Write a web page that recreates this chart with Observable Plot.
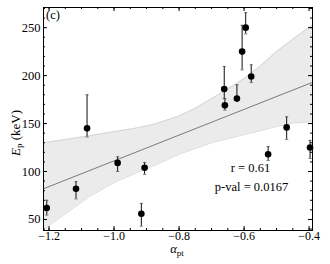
<!DOCTYPE html>
<html><head><meta charset="utf-8">
<script src="https://cdn.jsdelivr.net/npm/d3@7"></script>
<script src="https://cdn.jsdelivr.net/npm/@observablehq/plot@0.6"></script>
<style>body{margin:0;background:#fff} svg{display:block}</style>
</head><body><div id="chart"></div>
<script>
// Data
const alpha = [-1.207, -1.117, -1.083, -0.989, -0.906, -0.916, -0.661, -0.659, -0.622, -0.606, -0.595, -0.578, -0.526, -0.469, -0.397];
const Ep    = [62, 82, 145, 109, 104, 56, 186, 169, 176, 225, 250, 199, 118, 146, 125];
const EpLo  = [54.6, 71.5, 136, 100, 97, 43, 176, 164, 174, 206, 243.5, 192.7, 111.5, 133.5, 113.6];
const EpHi  = [70, 89.4, 180, 115.3, 109.4, 66.7, 209.5, 176, 190.5, 252.4, 265.6, 211.2, 126, 157, 132.4];

const bandX  = [-1.217, -1.125, -1.075, -1.0, -0.92, -0.87, -0.8, -0.75, -0.7, -0.66, -0.6, -0.55, -0.5, -0.45, -0.3895];
const bandLo = [39.5, 62, 74, 88.5, 100.3, 107.2, 118, 124, 130, 133.5, 138.5, 142.5, 147, 150.5, 152];
const bandHi = [130, 134.7, 137.3, 141.6, 146, 150, 158, 166, 176, 184, 197, 210, 225, 238, 253];

const fitX = [-1.217, -0.3895];
const fitY = [82, 193];

const xTickLabels = [-1.2, -1.0, -0.8, -0.6, -0.4];
const yTickLabels = [50, 100, 150, 200, 250];
const xMinorTicks = d3.range(-24, -7).map(k => k * 0.05);
const yMinorTicks = d3.range(4, 28).map(k => k * 10);

const annotR = "r = 0.61";
const annotP = "p-val = 0.0167";
const panelLabel = "(c)";

// Layout
const W = 330, H = 264, mL = 43, mR = 18, mT = 7, mB = 34;
const innerW = W - mL - mR, innerH = H - mT - mB;

const points = alpha.map((a, i) => ({a, ep: Ep[i], lo: EpLo[i], hi: EpHi[i]}));
const band = bandX.map((x, i) => ({x, lo: bandLo[i], hi: bandHi[i]}));
const fit = fitX.map((x, i) => ({x, y: fitY[i]}));

const capSym = {draw(ctx) { ctx.moveTo(-1.6, 0); ctx.lineTo(1.6, 0); }};
const fmt = d => (d < 0 ? "\u2212" : "") + Math.abs(d).toFixed(1);

const chart = Plot.plot({
  width: W, height: H,
  marginLeft: mL, marginRight: mR, marginTop: mT, marginBottom: mB,
  style: {fontFamily: "Liberation Serif", fontSize: "12.5px", background: "#fff", color: "#000"},
  x: {domain: [-1.217, -0.3895]},
  y: {domain: [38.5, 271]},
  marks: [
    Plot.areaY(band, {x: "x", y1: "lo", y2: "hi", fill: "#ebebeb"}),
    Plot.line(band, {x: "x", y: "lo", stroke: "#cfcfcf", strokeWidth: 0.8}),
    Plot.line(band, {x: "x", y: "hi", stroke: "#cfcfcf", strokeWidth: 0.8}),
    Plot.line(fit, {x: "x", y: "y", stroke: "#7a7a7a", strokeWidth: 1}),
    Plot.ruleX(points, {x: "a", y1: "lo", y2: "hi", stroke: "#111", strokeWidth: 1}),
    Plot.dot(points, {x: "a", y: "lo", symbol: capSym, stroke: "#555", fill: "none", strokeWidth: 0.8}),
    Plot.dot(points, {x: "a", y: "hi", symbol: capSym, stroke: "#555", fill: "none", strokeWidth: 0.8}),
    Plot.dot(points, {x: "a", y: "ep", r: 3.3, fill: "#000", stroke: "none"}),
    // inward ticks
    Plot.tickX(xMinorTicks, {x: d => d, insetTop: innerH - 2, stroke: "#000"}),
    Plot.tickX(xMinorTicks, {x: d => d, insetBottom: innerH - 2, stroke: "#000"}),
    Plot.tickX(xTickLabels, {x: d => d, insetTop: innerH - 4, stroke: "#000"}),
    Plot.tickX(xTickLabels, {x: d => d, insetBottom: innerH - 4, stroke: "#000"}),
    Plot.tickY(yMinorTicks, {y: d => d, insetRight: innerW - 2, stroke: "#000"}),
    Plot.tickY(yMinorTicks, {y: d => d, insetLeft: innerW - 2, stroke: "#000"}),
    Plot.tickY(yTickLabels, {y: d => d, insetRight: innerW - 4, stroke: "#000"}),
    Plot.tickY(yTickLabels, {y: d => d, insetLeft: innerW - 4, stroke: "#000"}),
    Plot.axisX({ticks: xTickLabels, tickSize: 0, tickPadding: 0.5, tickFormat: fmt, label: null, fontSize: 12}),
    Plot.axisY({ticks: yTickLabels, tickSize: 0, tickPadding: 3, label: null}),
    Plot.text([annotR], {frameAnchor: "bottom-right", dx: -62, dy: -58.7, text: d => d, textAnchor: "middle", lineAnchor: "bottom"}),
    Plot.text([annotP], {frameAnchor: "bottom-right", dx: -61, dy: -39.5, text: d => d, textAnchor: "middle", lineAnchor: "bottom"}),
    Plot.text([panelLabel], {frameAnchor: "top-left", dx: 2.5, dy: 11, text: d => d, textAnchor: "start", lineAnchor: "bottom"}),
    Plot.frame({stroke: "#000", strokeWidth: 1})
  ]
});

const svg = d3.select(chart);
// x label: alpha_pt
const xl = svg.append("text").attr("x", 177).attr("y", 253).attr("text-anchor", "middle")
  .attr("font-family", "Liberation Serif").attr("font-size", 12.5);
xl.append("tspan").attr("font-style", "italic").text("\u03b1");
xl.append("tspan").attr("font-size", 9).attr("dy", 2.5).text("pt");
// y label: E_p (keV)
const yl = svg.append("text").attr("transform", "translate(19.5,133) rotate(-90)").attr("text-anchor", "middle")
  .attr("font-family", "Liberation Serif").attr("font-size", 13);
yl.append("tspan").attr("font-style", "italic").text("E");
yl.append("tspan").attr("font-size", 9).attr("dy", 2.5).text("p");
yl.append("tspan").attr("dy", -2.5).text(" (keV)");

document.getElementById("chart").appendChild(chart);
</script>
</body></html>
